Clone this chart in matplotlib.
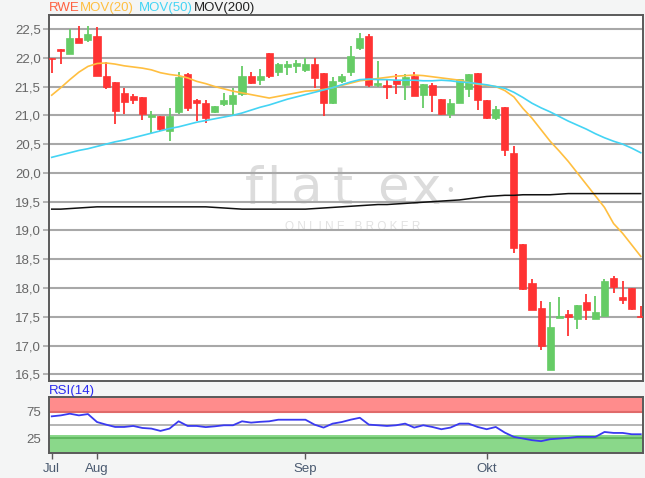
import matplotlib
matplotlib.use("Agg")
import matplotlib.pyplot as plt
import numpy as np

plt.rcParams['font.family'] = ['Liberation Sans', 'DejaVu Sans']

# daily candles, Jul..Okt
opens = [22.00, 22.15, 22.06, 22.34, 22.31, 22.38, 21.68, 21.58, 21.38, 21.33,
         21.32, 20.98, 20.99, 20.73, 21.06, 21.72, 21.27, 21.21, 21.06, 21.19,
         21.19, 21.37, 21.68, 21.61, 22.09, 21.75, 21.84, 21.86, 21.78, 21.89,
         21.74, 21.22, 21.59, 21.75, 22.17, 22.38, 21.52, 21.53, 21.62, 21.53,
         21.68, 21.36, 21.52, 21.28, 21.03, 21.21, 21.46, 21.73, 21.26, 20.95,
         21.15, 20.34, 18.76, 18.09, 17.66, 16.58, 17.48, 17.54, 17.46, 17.75,
         17.46, 17.51, 18.18, 17.85, 18.00, 17.51]
highs = [22.00, 22.15, 22.50, 22.55, 22.55, 22.53, 21.93, 21.58, 21.47, 21.37,
         21.32, 21.08, 20.99, 21.13, 21.75, 21.74, 21.28, 21.26, 21.16, 21.39,
         21.48, 21.86, 21.76, 21.80, 22.09, 21.91, 21.95, 21.96, 21.99, 21.99,
         21.74, 21.67, 21.72, 22.20, 22.43, 22.41, 21.95, 21.62, 21.71, 21.71,
         21.75, 21.55, 21.56, 21.28, 21.29, 21.63, 21.72, 21.73, 21.26, 21.17,
         21.15, 20.46, 18.76, 18.15, 17.77, 17.75, 17.85, 17.62, 17.70, 17.89,
         17.86, 18.16, 18.20, 18.12, 18.00, 17.69]
lows = [21.73, 21.90, 22.06, 22.26, 22.27, 21.68, 21.45, 20.85, 21.03, 21.20,
        20.92, 20.70, 20.73, 20.56, 21.03, 21.08, 20.90, 20.87, 21.04, 21.16,
        21.00, 21.34, 21.55, 21.53, 21.65, 21.68, 21.70, 21.73, 21.76, 21.48,
        20.98, 21.20, 21.56, 21.69, 22.14, 21.49, 21.50, 21.29, 21.37, 21.26,
        21.33, 21.13, 21.06, 21.00, 20.96, 21.21, 21.32, 21.10, 20.94, 20.92,
        20.30, 18.60, 17.97, 17.61, 16.93, 16.58, 17.48, 17.17, 17.29, 17.44,
        17.46, 17.51, 17.91, 17.73, 17.62, 17.49]
closes = [21.98, 22.11, 22.34, 22.26, 22.42, 21.68, 21.49, 21.07, 21.24, 21.27,
          21.02, 21.00, 20.76, 20.99, 21.67, 21.12, 21.22, 20.95, 21.16, 21.27,
          21.36, 21.68, 21.56, 21.68, 21.68, 21.89, 21.90, 21.91, 21.89, 21.65,
          21.22, 21.59, 21.69, 22.03, 22.34, 21.53, 21.56, 21.50, 21.55, 21.67,
          21.33, 21.55, 21.36, 21.02, 21.21, 21.63, 21.72, 21.27, 20.95, 21.11,
          20.40, 18.69, 17.99, 17.61, 17.00, 17.33, 17.52, 17.50, 17.70, 17.62,
          17.58, 18.12, 18.01, 17.79, 17.64, 17.49]

mov20 = [21.35, 21.48, 21.62, 21.75, 21.85, 21.90, 21.91, 21.89, 21.86, 21.84,
         21.82, 21.79, 21.74, 21.71, 21.69, 21.65, 21.59, 21.55, 21.50, 21.46,
         21.42, 21.39, 21.36, 21.33, 21.30, 21.33, 21.36, 21.39, 21.42, 21.43,
         21.45, 21.48, 21.52, 21.56, 21.60, 21.62, 21.64, 21.66, 21.68, 21.69,
         21.70, 21.69, 21.67, 21.65, 21.63, 21.61, 21.57, 21.54, 21.52, 21.50,
         21.43, 21.32, 21.12, 20.95, 20.75, 20.55, 20.38, 20.20, 20.00, 19.80,
         19.60, 19.40, 19.12, 18.95, 18.75, 18.55]
mov50 = [20.27, 20.31, 20.35, 20.39, 20.42, 20.46, 20.50, 20.54, 20.57, 20.61,
         20.65, 20.69, 20.73, 20.77, 20.80, 20.84, 20.88, 20.91, 20.94, 20.97,
         21.00, 21.04, 21.09, 21.14, 21.18, 21.23, 21.28, 21.32, 21.36, 21.40,
         21.44, 21.48, 21.53, 21.58, 21.62, 21.63, 21.62, 21.62, 21.61, 21.61,
         21.61, 21.60, 21.60, 21.61, 21.60, 21.58, 21.57, 21.55, 21.53, 21.50,
         21.47, 21.40, 21.31, 21.21, 21.13, 21.06, 20.98, 20.90, 20.83, 20.76,
         20.68, 20.61, 20.55, 20.50, 20.43, 20.35]
mov200 = [19.37, 19.37, 19.38, 19.39, 19.40, 19.41, 19.41, 19.41, 19.41, 19.41,
          19.41, 19.41, 19.41, 19.41, 19.41, 19.41, 19.41, 19.41, 19.40, 19.39,
          19.38, 19.37, 19.37, 19.37, 19.37, 19.37, 19.37, 19.37, 19.37, 19.38,
          19.39, 19.40, 19.41, 19.42, 19.43, 19.44, 19.45, 19.45, 19.46, 19.47,
          19.48, 19.49, 19.50, 19.51, 19.52, 19.53, 19.55, 19.57, 19.59, 19.60,
          19.61, 19.61, 19.62, 19.62, 19.62, 19.62, 19.63, 19.64, 19.64, 19.64,
          19.64, 19.64, 19.64, 19.64, 19.64, 19.64]
rsi = [66.4, 68.2, 71.4, 68.2, 70.7, 55.6, 50.7, 46.3, 46.3, 48.2,
       44.4, 43.2, 38.8, 43.2, 57.0, 48.2, 48.2, 46.0, 47.5, 49.5,
       49.5, 57.0, 54.5, 56.0, 57.0, 60.0, 60.0, 60.0, 60.0, 50.7,
       45.1, 52.6, 55.6, 60.1, 63.7, 50.7, 49.5, 48.2, 49.5, 52.6,
       45.1, 49.5, 46.3, 42.0, 45.1, 52.6, 52.6, 46.3, 42.0, 46.3,
       35.6, 27.5, 24.4, 21.3, 19.4, 23.1, 24.4, 25.6, 27.5, 27.5,
       27.5, 36.8, 35.0, 35.0, 32.5, 32.5]

month_labels = ["Jul", "Aug", "Sep", "Okt"]
month_pos = [0, 5, 28, 48]
price_ticks = [16.5, 17.0, 17.5, 18.0, 18.5, 19.0, 19.5, 20.0, 20.5, 21.0, 21.5, 22.0, 22.5]

RED = "#ff3333"
GREEN = "#66cc66"
GRID = "#a8a8a8"
FRAME = "#5a5a5a"
TXT = "#666666"

W, H = 645, 478
fig = plt.figure(figsize=(W / 100, H / 100), dpi=100)
fig.patch.set_facecolor("#f4f5f5")

def box(l, t, r, b):
    return [l / W, 1 - b / H, (r - l) / W, (b - t) / H]

ax = fig.add_axes(box(49, 15, 643, 381))
ax.set_facecolor("white")

x = np.arange(len(opens))
for i in x:
    o, h, l, c = opens[i], highs[i], lows[i], closes[i]
    col = GREEN if c >= o else RED
    ax.vlines(i, l, h, color=col, lw=1.3, zorder=3)
    lo, hi = min(o, c), max(o, c)
    if hi - lo < 0.02:
        lo, hi = (o + c) / 2 - 0.012, (o + c) / 2 + 0.012
    ax.bar(i, hi - lo, bottom=lo, width=0.78, color=col, edgecolor=col,
           lw=0.5, zorder=4)

ax.plot(x, mov20, color="#ffbf40", lw=1.2, zorder=5)
ax.plot(x, mov50, color="#44d4f4", lw=1.2, zorder=5)
ax.plot(x, mov200, color="#111111", lw=1.1, zorder=5)

ax.set_xlim(-0.3, 65.25)
ax.set_ylim(16.384, 22.743)
ax.set_yticks(price_ticks)
ax.set_yticklabels([f"{v:.1f}".replace(".", ",") for v in price_ticks])
ax.yaxis.grid(True, color=GRID, lw=1.5, zorder=0)
ax.set_xticks([])
ax.tick_params(axis="y", length=4, width=1.2, color=GRID, labelcolor=TXT,
               labelsize=9.5, pad=2)
for s in ax.spines.values():
    s.set_color(FRAME)
    s.set_linewidth(1.4)

# watermark, letter by letter (pixel positions in the 645x478 frame)
for px, ch in [(254, "f"), (273, "l"), (307, "a"), (343, "t"), (393, "e"), (426, "x")]:
    ax.text((px - 49) / 594, (381 - 204) / 366, ch, transform=ax.transAxes,
            ha="center", va="baseline", fontsize=37, color="#dcdcdc", zorder=1,
            fontfamily="DejaVu Sans")
ax.text((450 - 49) / 594, (381 - 190) / 366, "\u2022", transform=ax.transAxes,
        ha="center", va="center", fontsize=12, color="#d8d8d8", zorder=1)
ax.text((353 - 49) / 594, (381 - 227) / 366, "O N L I N E   B R O K E R",
        transform=ax.transAxes, ha="center", va="center", fontsize=8.5,
        color="#e2e2e2", zorder=1)

# legend header
for xp, label, col in [(49, "RWE", "#ff6040"), (80, "MOV(20)", "#ffbf40"),
                       (139, "MOV(50)", "#44d4f4"), (194, "MOV(200)", "#222222")]:
    fig.text(xp / W, 1 - 8 / H, label, color=col, fontsize=9.5, va="center")

# RSI panel
ar = fig.add_axes(box(49, 397, 643, 453))
ar.set_facecolor("white")
ar.axhspan(73, 103, color="#ff8c8c", lw=0)
ar.axhline(74.5, color="#e06a6a", lw=1.5)
ar.axhspan(-3, 32, color="#8ad88a", lw=0)
ar.axhline(25.5, color="#60b860", lw=1.5)
ar.axhline(50, color=GRID, lw=1.2)
ar.plot(x, rsi, color="#3a3af0", lw=1.3, zorder=5)
ar.set_xlim(-0.3, 65.25)
ar.set_ylim(-3, 103)
ar.set_yticks([25, 75])
ar.set_yticklabels(["25", "75"])
ar.tick_params(axis="y", length=0, labelcolor=TXT, labelsize=9.5, pad=6)
ar.set_xticks(month_pos)
ar.set_xticklabels(month_labels)
ar.tick_params(axis="x", length=4, width=1, color=FRAME, labelcolor="#4a5a70",
               labelsize=9.5, pad=3)
for s in ar.spines.values():
    s.set_color(FRAME)
    s.set_linewidth(1.4)
fig.text(49 / W, 1 - 391 / H, "RSI(14)", color="#2a2af0", fontsize=9.5, va="center")

fig.savefig("out.png", dpi=100, facecolor=fig.get_facecolor())
